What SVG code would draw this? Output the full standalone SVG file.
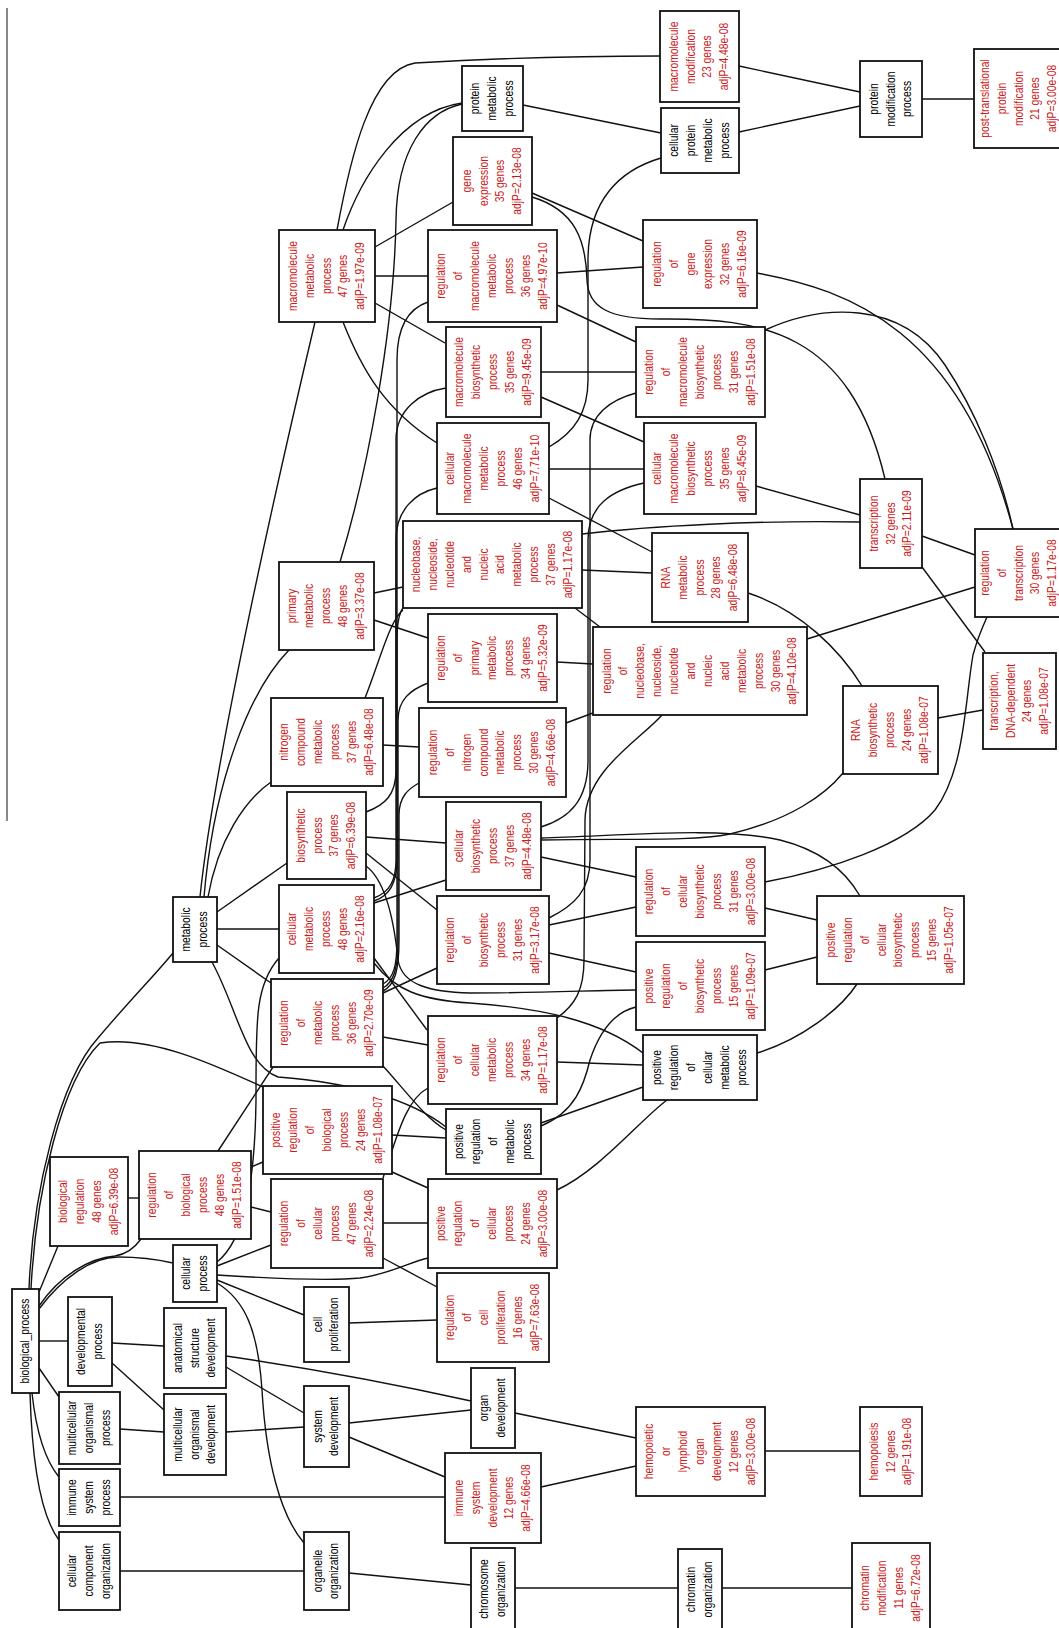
<svg xmlns="http://www.w3.org/2000/svg" width="1059" height="1628" viewBox="0 0 1059 1628">
<style>
.e path{fill:none;stroke:#111;stroke-width:1.4}
.n rect{fill:#fff;stroke:#111;stroke-width:1.8}
text{font-family:"Liberation Sans",Arial,sans-serif;font-size:12px;text-anchor:middle}
.r{fill:#cc1a1a}
.k{fill:#000}
</style>
<rect width="1059" height="1628" fill="#fff"/>
<path d="M7,8 L7,821" stroke="#888" stroke-width="2" fill="none"/>
<g class="e" id="edges">
<path d="M29,1289 C33,1190 60,1080 98,1038 C130,1000 155,975 173,953"/>
<path d="M31,1289 C36,1190 62,1080 100,1043 C150,1035 215,1065 263,1087"/>
<path d="M39,1292 L58,1246"/>
<path d="M39,1306 C60,1275 90,1258 115,1256 C128,1254 136,1246 141,1239"/>
<path d="M39,1309 C62,1278 92,1257 118,1257 C140,1257 160,1260 173,1263"/>
<path d="M39,1341 L68,1341"/>
<path d="M39,1368 L59,1397"/>
<path d="M32,1393 C36,1430 45,1460 59,1477"/>
<path d="M30,1393 C32,1460 40,1515 59,1540"/>
<path d="M128,1198 L139,1198"/>
<path d="M251,1167 L263,1162"/>
<path d="M251,1207 L271,1212"/>
<path d="M218,1151 L273,1067"/>
<path d="M217,1266 L271,1245"/>
<path d="M217,1275 C280,1279 330,1281 360,1278 C390,1274 410,1262 428,1258"/>
<path d="M217,1262 C245,1240 255,1180 256,1100 C256,1020 255,985 279,958"/>
<path d="M217,1280 L304,1315"/>
<path d="M217,1283 C245,1300 258,1330 262,1390 C266,1460 280,1515 304,1543"/>
<path d="M112,1343 L164,1346"/>
<path d="M112,1363 L164,1410"/>
<path d="M120,1429 L164,1432"/>
<path d="M226,1356 Q350,1374 471,1401"/>
<path d="M226,1367 L304,1413"/>
<path d="M226,1432 L304,1427"/>
<path d="M349,1423 L471,1410"/>
<path d="M349,1437 L445,1477"/>
<path d="M120,1497 L445,1497"/>
<path d="M515,1413 L636,1438"/>
<path d="M541,1487 L636,1466"/>
<path d="M765,1451 L860,1451"/>
<path d="M120,1571 L304,1571"/>
<path d="M349,1573 L471,1585"/>
<path d="M515,1588 L678,1588"/>
<path d="M722,1588 L852,1588"/>
<path d="M349,1323 L437,1320"/>
<path d="M383,1258 L437,1287"/>
<path d="M383,1223 L428,1223"/>
<path d="M392,1172 L428,1188"/>
<path d="M383,1178 C396,1140 405,1100 428,1088"/>
<path d="M392,1135 L446,1138"/>
<path d="M383,1066 C405,1090 425,1118 446,1130"/>
<path d="M212,962 C238,1010 245,1065 278,1077 C340,1082 405,1095 446,1127"/>
<path d="M217,929 L279,929"/>
<path d="M217,945 L271,983"/>
<path d="M217,912 L287,863"/>
<path d="M200,897 C214,760 280,470 315,322"/>
<path d="M204,897 C214,780 250,690 289,650"/>
<path d="M208,897 C218,840 245,800 271,782"/>
<path d="M383,993 L437,968"/>
<path d="M383,1037 L428,1045"/>
<path d="M383,984 C394,978 397,965 397,940 L397,360 C397,325 410,308 428,302"/>
<path d="M383,988 C394,982 398,968 398,940 L398,720 C398,700 410,690 428,683"/>
<path d="M383,991 C395,985 399,970 399,940 L399,815 C399,797 408,789 419,783"/>
<path d="M374,898 C390,892 396,880 396,860 L396,540 C396,510 415,493 437,488"/>
<path d="M374,901 C390,896 397,882 397,860 L397,640 C397,620 400,612 403,608"/>
<path d="M366,812 C385,805 396,795 396,770 L396,440 C396,410 420,392 446,388"/>
<path d="M340,562 C368,470 394,330 396,220 C397,150 425,112 462,104"/>
<path d="M374,903 L446,880"/>
<path d="M366,837 L446,843"/>
<path d="M366,853 L437,910"/>
<path d="M366,866 C385,880 394,920 398,960 C402,985 430,992 470,993 C540,993 600,990 636,990"/>
<path d="M374,958 L427,1030"/>
<path d="M374,963 C395,990 420,1000 470,1003 C540,1008 600,1020 643,1053"/>
<path d="M549,925 L636,907"/>
<path d="M549,953 L636,972"/>
<path d="M549,918 C575,905 590,890 590,860 L590,440 C590,415 610,400 636,393"/>
<path d="M541,857 L636,877"/>
<path d="M541,827 C570,818 588,800 588,760 L588,540 C588,505 612,490 644,483"/>
<path d="M541,838 C620,836 720,826 780,840 C820,850 845,870 860,896"/>
<path d="M541,840 C620,838 690,842 730,834 C790,820 825,795 843,773"/>
<path d="M557,1018 C575,1005 584,990 584,960 L585,820 C586,770 640,740 662,715"/>
<path d="M557,1062 L643,1065"/>
<path d="M541,1123 L643,1087"/>
<path d="M541,1126 C575,1112 584,1085 590,1060 C600,1030 615,1012 636,1007"/>
<path d="M557,1190 C600,1170 640,1120 667,1100"/>
<path d="M757,1053 C800,1040 840,1010 857,984"/>
<path d="M765,908 L817,920"/>
<path d="M765,970 L817,957"/>
<path d="M765,882 C830,870 905,845 935,810 C965,770 965,700 973,655 C977,640 982,628 987,617"/>
<path d="M807,639 L975,587"/>
<path d="M922,536 L975,555"/>
<path d="M922,567 L985,652"/>
<path d="M938,718 L983,710"/>
<path d="M748,593 C800,610 840,650 862,686"/>
<path d="M549,498 L652,552"/>
<path d="M582,570 L652,573"/>
<path d="M582,534 C650,526 760,520 860,522"/>
<path d="M756,486 L860,515"/>
<path d="M549,469 L644,469"/>
<path d="M541,397 L644,442"/>
<path d="M541,372 L636,372"/>
<path d="M557,305 L636,342"/>
<path d="M557,273 L643,267"/>
<path d="M532,193 L643,241"/>
<path d="M532,197 C575,210 586,240 587,280 C588,308 610,319 660,319 C760,318 850,330 885,479"/>
<path d="M757,273 C850,290 960,330 1013,529"/>
<path d="M765,330 C820,305 900,298 945,365 C975,410 1000,470 1013,529"/>
<path d="M549,447 C575,432 588,412 588,380 L588,260 C588,200 620,170 661,158"/>
<path d="M523,105 L661,133"/>
<path d="M739,66 L860,92"/>
<path d="M739,132 L860,106"/>
<path d="M922,99 L974,99"/>
<path d="M337,230 C350,160 370,70 415,63 C500,58 600,56 660,56"/>
<path d="M343,230 C360,180 400,112 462,103"/>
<path d="M375,247 L453,202"/>
<path d="M375,276 L428,276"/>
<path d="M375,303 L445,343"/>
<path d="M343,322 C362,370 385,410 437,443"/>
<path d="M374,593 L403,587"/>
<path d="M374,620 L428,638"/>
<path d="M365,698 C380,660 390,620 403,610"/>
<path d="M383,745 L419,747"/>
<path d="M575,608 L600,627"/>
<path d="M557,662 L593,664"/>
<path d="M566,723 L593,713"/>
</g>
<g class="n">
<g id="biological_process"><rect x="12" y="1289" width="27" height="104"/><text class="k" transform="translate(25.5 1341) rotate(-90) scale(.86 1)"><tspan x="0" y="3.5">biological_process</tspan></text></g>
<g id="biological_regulation"><rect x="50" y="1157" width="78" height="89"/><text class="r" transform="translate(89 1201.5) rotate(-90) scale(.86 1)"><tspan x="0" y="-21.85">biological</tspan><tspan x="0" y="-4.95">regulation</tspan><tspan x="0" y="11.95">48 genes</tspan><tspan x="0" y="28.85">adjP=6.39e-08</tspan></text></g>
<g id="regulation_of_biological_process"><rect x="139" y="1151" width="112" height="88"/><text class="r" transform="translate(195 1195) rotate(-90) scale(.86 1)"><tspan x="0" y="-38.75">regulation</tspan><tspan x="0" y="-21.85">of</tspan><tspan x="0" y="-4.95">biological</tspan><tspan x="0" y="11.95">process</tspan><tspan x="0" y="28.85">48 genes</tspan><tspan x="0" y="45.75">adjP=1.51e-08</tspan></text></g>
<g id="cellular_process"><rect x="173" y="1245" width="44" height="57"/><text class="k" transform="translate(195 1273.5) rotate(-90) scale(.86 1)"><tspan x="0" y="-4.95">cellular</tspan><tspan x="0" y="11.95">process</tspan></text></g>
<g id="developmental_process"><rect x="68" y="1297" width="44" height="89"/><text class="k" transform="translate(90 1341.5) rotate(-90) scale(.86 1)"><tspan x="0" y="-4.95">developmental</tspan><tspan x="0" y="11.95">process</tspan></text></g>
<g id="anatomical_structure_development"><rect x="164" y="1308" width="62" height="80"/><text class="k" transform="translate(195 1348) rotate(-90) scale(.86 1)"><tspan x="0" y="-13.4">anatomical</tspan><tspan x="0" y="3.5">structure</tspan><tspan x="0" y="20.4">development</tspan></text></g>
<g id="multicellular_organismal_process"><rect x="59" y="1392" width="61" height="72"/><text class="k" transform="translate(89.5 1428) rotate(-90) scale(.86 1)"><tspan x="0" y="-13.4">multicellular</tspan><tspan x="0" y="3.5">organismal</tspan><tspan x="0" y="20.4">process</tspan></text></g>
<g id="multicellular_organismal_development"><rect x="164" y="1394" width="62" height="81"/><text class="k" transform="translate(195 1434.5) rotate(-90) scale(.86 1)"><tspan x="0" y="-13.4">multicellular</tspan><tspan x="0" y="3.5">organismal</tspan><tspan x="0" y="20.4">development</tspan></text></g>
<g id="immune_system_process"><rect x="59" y="1469" width="61" height="57"/><text class="k" transform="translate(89.5 1497.5) rotate(-90) scale(.86 1)"><tspan x="0" y="-13.4">immune</tspan><tspan x="0" y="3.5">system</tspan><tspan x="0" y="20.4">process</tspan></text></g>
<g id="cellular_component_organization"><rect x="59" y="1532" width="61" height="78"/><text class="k" transform="translate(89.5 1571) rotate(-90) scale(.86 1)"><tspan x="0" y="-13.4">cellular</tspan><tspan x="0" y="3.5">component</tspan><tspan x="0" y="20.4">organization</tspan></text></g>
<g id="metabolic_process"><rect x="173" y="897" width="44" height="65"/><text class="k" transform="translate(195 929.5) rotate(-90) scale(.86 1)"><tspan x="0" y="-4.95">metabolic</tspan><tspan x="0" y="11.95">process</tspan></text></g>
<g id="macromolecule_metabolic_process"><rect x="279" y="230" width="96" height="92"/><text class="r" transform="translate(327 276) rotate(-90) scale(.86 1)"><tspan x="0" y="-30.3">macromolecule</tspan><tspan x="0" y="-13.4">metabolic</tspan><tspan x="0" y="3.5">process</tspan><tspan x="0" y="20.4">47 genes</tspan><tspan x="0" y="37.3">adjP=1.97e-09</tspan></text></g>
<g id="primary_metabolic_process"><rect x="279" y="562" width="95" height="88"/><text class="r" transform="translate(326.5 606) rotate(-90) scale(.86 1)"><tspan x="0" y="-30.3">primary</tspan><tspan x="0" y="-13.4">metabolic</tspan><tspan x="0" y="3.5">process</tspan><tspan x="0" y="20.4">48 genes</tspan><tspan x="0" y="37.3">adjP=3.37e-08</tspan></text></g>
<g id="nitrogen_compound_metabolic_process"><rect x="271" y="698" width="112" height="88"/><text class="r" transform="translate(327 742) rotate(-90) scale(.86 1)"><tspan x="0" y="-38.75">nitrogen</tspan><tspan x="0" y="-21.85">compound</tspan><tspan x="0" y="-4.95">metabolic</tspan><tspan x="0" y="11.95">process</tspan><tspan x="0" y="28.85">37 genes</tspan><tspan x="0" y="45.75">adjP=6.48e-08</tspan></text></g>
<g id="biosynthetic_process"><rect x="287" y="792" width="79" height="87"/><text class="r" transform="translate(326.5 835.5) rotate(-90) scale(.86 1)"><tspan x="0" y="-21.85">biosynthetic</tspan><tspan x="0" y="-4.95">process</tspan><tspan x="0" y="11.95">37 genes</tspan><tspan x="0" y="28.85">adjP=6.39e-08</tspan></text></g>
<g id="cellular_metabolic_process"><rect x="279" y="885" width="95" height="88"/><text class="r" transform="translate(326.5 929) rotate(-90) scale(.86 1)"><tspan x="0" y="-30.3">cellular</tspan><tspan x="0" y="-13.4">metabolic</tspan><tspan x="0" y="3.5">process</tspan><tspan x="0" y="20.4">48 genes</tspan><tspan x="0" y="37.3">adjP=2.16e-08</tspan></text></g>
<g id="regulation_of_metabolic_process"><rect x="271" y="979" width="112" height="88"/><text class="r" transform="translate(327 1023) rotate(-90) scale(.86 1)"><tspan x="0" y="-38.75">regulation</tspan><tspan x="0" y="-21.85">of</tspan><tspan x="0" y="-4.95">metabolic</tspan><tspan x="0" y="11.95">process</tspan><tspan x="0" y="28.85">36 genes</tspan><tspan x="0" y="45.75">adjP=2.70e-09</tspan></text></g>
<g id="positive_regulation_of_biological_process"><rect x="263" y="1086" width="129" height="88"/><text class="r" transform="translate(327.5 1130) rotate(-90) scale(.86 1)"><tspan x="0" y="-47.2">positive</tspan><tspan x="0" y="-30.3">regulation</tspan><tspan x="0" y="-13.4">of</tspan><tspan x="0" y="3.5">biological</tspan><tspan x="0" y="20.4">process</tspan><tspan x="0" y="37.3">24 genes</tspan><tspan x="0" y="54.2">adjP=1.08e-07</tspan></text></g>
<g id="regulation_of_cellular_process"><rect x="271" y="1179" width="112" height="89"/><text class="r" transform="translate(327 1223.5) rotate(-90) scale(.86 1)"><tspan x="0" y="-38.75">regulation</tspan><tspan x="0" y="-21.85">of</tspan><tspan x="0" y="-4.95">cellular</tspan><tspan x="0" y="11.95">process</tspan><tspan x="0" y="28.85">47 genes</tspan><tspan x="0" y="45.75">adjP=2.24e-08</tspan></text></g>
<g id="cell_proliferation"><rect x="304" y="1287" width="45" height="75"/><text class="k" transform="translate(326.5 1324.5) rotate(-90) scale(.86 1)"><tspan x="0" y="-4.95">cell</tspan><tspan x="0" y="11.95">proliferation</tspan></text></g>
<g id="system_development"><rect x="304" y="1386" width="45" height="81"/><text class="k" transform="translate(326.5 1426.5) rotate(-90) scale(.86 1)"><tspan x="0" y="-4.95">system</tspan><tspan x="0" y="11.95">development</tspan></text></g>
<g id="organelle_organization"><rect x="304" y="1532" width="45" height="78"/><text class="k" transform="translate(326.5 1571) rotate(-90) scale(.86 1)"><tspan x="0" y="-4.95">organelle</tspan><tspan x="0" y="11.95">organization</tspan></text></g>
<g id="protein_metabolic_process"><rect x="462" y="66" width="61" height="65"/><text class="k" transform="translate(492.5 98.5) rotate(-90) scale(.86 1)"><tspan x="0" y="-13.4">protein</tspan><tspan x="0" y="3.5">metabolic</tspan><tspan x="0" y="20.4">process</tspan></text></g>
<g id="gene_expression"><rect x="453" y="137" width="79" height="88"/><text class="r" transform="translate(492.5 181) rotate(-90) scale(.86 1)"><tspan x="0" y="-21.85">gene</tspan><tspan x="0" y="-4.95">expression</tspan><tspan x="0" y="11.95">35 genes</tspan><tspan x="0" y="28.85">adjP=2.13e-08</tspan></text></g>
<g id="regulation_of_macromolecule_metabolic_process"><rect x="428" y="230" width="129" height="92"/><text class="r" transform="translate(492.5 276) rotate(-90) scale(.86 1)"><tspan x="0" y="-47.2">regulation</tspan><tspan x="0" y="-30.3">of</tspan><tspan x="0" y="-13.4">macromolecule</tspan><tspan x="0" y="3.5">metabolic</tspan><tspan x="0" y="20.4">process</tspan><tspan x="0" y="37.3">36 genes</tspan><tspan x="0" y="54.2">adjP=4.97e-10</tspan></text></g>
<g id="macromolecule_biosynthetic_process"><rect x="446" y="327" width="95" height="90"/><text class="r" transform="translate(493.5 372) rotate(-90) scale(.86 1)"><tspan x="0" y="-30.3">macromolecule</tspan><tspan x="0" y="-13.4">biosynthetic</tspan><tspan x="0" y="3.5">process</tspan><tspan x="0" y="20.4">35 genes</tspan><tspan x="0" y="37.3">adjP=9.45e-09</tspan></text></g>
<g id="cellular_macromolecule_metabolic_process"><rect x="437" y="423" width="112" height="91"/><text class="r" transform="translate(493 468.5) rotate(-90) scale(.86 1)"><tspan x="0" y="-38.75">cellular</tspan><tspan x="0" y="-21.85">macromolecule</tspan><tspan x="0" y="-4.95">metabolic</tspan><tspan x="0" y="11.95">process</tspan><tspan x="0" y="28.85">46 genes</tspan><tspan x="0" y="45.75">adjP=7.71e-10</tspan></text></g>
<g id="nucleobase_metabolic_process"><rect x="403" y="521" width="179" height="87"/><text class="r" transform="translate(492.5 564.5) rotate(-90) scale(.86 1)"><tspan x="0" y="-72.55">nucleobase,</tspan><tspan x="0" y="-55.65">nucleoside,</tspan><tspan x="0" y="-38.75">nucleotide</tspan><tspan x="0" y="-21.85">and</tspan><tspan x="0" y="-4.95">nucleic</tspan><tspan x="0" y="11.95">acid</tspan><tspan x="0" y="28.85">metabolic</tspan><tspan x="0" y="45.75">process</tspan><tspan x="0" y="62.65">37 genes</tspan><tspan x="0" y="79.55">adjP=1.17e-08</tspan></text></g>
<g id="regulation_of_primary_metabolic_process"><rect x="428" y="614" width="129" height="88"/><text class="r" transform="translate(492.5 658) rotate(-90) scale(.86 1)"><tspan x="0" y="-47.2">regulation</tspan><tspan x="0" y="-30.3">of</tspan><tspan x="0" y="-13.4">primary</tspan><tspan x="0" y="3.5">metabolic</tspan><tspan x="0" y="20.4">process</tspan><tspan x="0" y="37.3">34 genes</tspan><tspan x="0" y="54.2">adjP=5.32e-09</tspan></text></g>
<g id="regulation_of_nitrogen_compound_metabolic_process"><rect x="419" y="708" width="147" height="89"/><text class="r" transform="translate(492.5 752.5) rotate(-90) scale(.86 1)"><tspan x="0" y="-55.65">regulation</tspan><tspan x="0" y="-38.75">of</tspan><tspan x="0" y="-21.85">nitrogen</tspan><tspan x="0" y="-4.95">compound</tspan><tspan x="0" y="11.95">metabolic</tspan><tspan x="0" y="28.85">process</tspan><tspan x="0" y="45.75">30 genes</tspan><tspan x="0" y="62.65">adjP=4.66e-08</tspan></text></g>
<g id="cellular_biosynthetic_process"><rect x="446" y="802" width="95" height="88"/><text class="r" transform="translate(493.5 846) rotate(-90) scale(.86 1)"><tspan x="0" y="-30.3">cellular</tspan><tspan x="0" y="-13.4">biosynthetic</tspan><tspan x="0" y="3.5">process</tspan><tspan x="0" y="20.4">37 genes</tspan><tspan x="0" y="37.3">adjP=4.48e-08</tspan></text></g>
<g id="regulation_of_biosynthetic_process"><rect x="437" y="896" width="112" height="88"/><text class="r" transform="translate(493 940) rotate(-90) scale(.86 1)"><tspan x="0" y="-38.75">regulation</tspan><tspan x="0" y="-21.85">of</tspan><tspan x="0" y="-4.95">biosynthetic</tspan><tspan x="0" y="11.95">process</tspan><tspan x="0" y="28.85">31 genes</tspan><tspan x="0" y="45.75">adjP=3.17e-08</tspan></text></g>
<g id="regulation_of_cellular_metabolic_process"><rect x="428" y="1016" width="129" height="88"/><text class="r" transform="translate(492.5 1060) rotate(-90) scale(.86 1)"><tspan x="0" y="-47.2">regulation</tspan><tspan x="0" y="-30.3">of</tspan><tspan x="0" y="-13.4">cellular</tspan><tspan x="0" y="3.5">metabolic</tspan><tspan x="0" y="20.4">process</tspan><tspan x="0" y="37.3">34 genes</tspan><tspan x="0" y="54.2">adjP=1.17e-08</tspan></text></g>
<g id="positive_regulation_of_metabolic_process"><rect x="446" y="1109" width="95" height="65"/><text class="k" transform="translate(493.5 1141.5) rotate(-90) scale(.86 1)"><tspan x="0" y="-30.3">positive</tspan><tspan x="0" y="-13.4">regulation</tspan><tspan x="0" y="3.5">of</tspan><tspan x="0" y="20.4">metabolic</tspan><tspan x="0" y="37.3">process</tspan></text></g>
<g id="positive_regulation_of_cellular_process"><rect x="428" y="1179" width="129" height="89"/><text class="r" transform="translate(492.5 1223.5) rotate(-90) scale(.86 1)"><tspan x="0" y="-47.2">positive</tspan><tspan x="0" y="-30.3">regulation</tspan><tspan x="0" y="-13.4">of</tspan><tspan x="0" y="3.5">cellular</tspan><tspan x="0" y="20.4">process</tspan><tspan x="0" y="37.3">24 genes</tspan><tspan x="0" y="54.2">adjP=3.00e-08</tspan></text></g>
<g id="regulation_of_cell_proliferation"><rect x="437" y="1273" width="112" height="89"/><text class="r" transform="translate(493 1317.5) rotate(-90) scale(.86 1)"><tspan x="0" y="-38.75">regulation</tspan><tspan x="0" y="-21.85">of</tspan><tspan x="0" y="-4.95">cell</tspan><tspan x="0" y="11.95">proliferation</tspan><tspan x="0" y="28.85">16 genes</tspan><tspan x="0" y="45.75">adjP=7.63e-08</tspan></text></g>
<g id="organ_development"><rect x="471" y="1368" width="44" height="80"/><text class="k" transform="translate(493 1408) rotate(-90) scale(.86 1)"><tspan x="0" y="-4.95">organ</tspan><tspan x="0" y="11.95">development</tspan></text></g>
<g id="immune_system_development"><rect x="445" y="1453" width="96" height="90"/><text class="r" transform="translate(493 1498) rotate(-90) scale(.86 1)"><tspan x="0" y="-30.3">immune</tspan><tspan x="0" y="-13.4">system</tspan><tspan x="0" y="3.5">development</tspan><tspan x="0" y="20.4">12 genes</tspan><tspan x="0" y="37.3">adjP=4.66e-08</tspan></text></g>
<g id="chromosome_organization"><rect x="471" y="1548" width="44" height="82"/><text class="k" transform="translate(493 1589) rotate(-90) scale(.86 1)"><tspan x="0" y="-4.95">chromosome</tspan><tspan x="0" y="11.95">organization</tspan></text></g>
<g id="macromolecule_modification"><rect x="660" y="11" width="79" height="91"/><text class="r" transform="translate(699.5 56.5) rotate(-90) scale(.86 1)"><tspan x="0" y="-21.85">macromolecule</tspan><tspan x="0" y="-4.95">modification</tspan><tspan x="0" y="11.95">23 genes</tspan><tspan x="0" y="28.85">adjP=4.48e-08</tspan></text></g>
<g id="cellular_protein_metabolic_process"><rect x="661" y="108" width="78" height="65"/><text class="k" transform="translate(700 140.5) rotate(-90) scale(.86 1)"><tspan x="0" y="-21.85">cellular</tspan><tspan x="0" y="-4.95">protein</tspan><tspan x="0" y="11.95">metabolic</tspan><tspan x="0" y="28.85">process</tspan></text></g>
<g id="regulation_of_gene_expression"><rect x="643" y="220" width="114" height="88"/><text class="r" transform="translate(700 264) rotate(-90) scale(.86 1)"><tspan x="0" y="-38.75">regulation</tspan><tspan x="0" y="-21.85">of</tspan><tspan x="0" y="-4.95">gene</tspan><tspan x="0" y="11.95">expression</tspan><tspan x="0" y="28.85">32 genes</tspan><tspan x="0" y="45.75">adjP=6.16e-09</tspan></text></g>
<g id="regulation_of_macromolecule_biosynthetic_process"><rect x="636" y="327" width="129" height="90"/><text class="r" transform="translate(700.5 372) rotate(-90) scale(.86 1)"><tspan x="0" y="-47.2">regulation</tspan><tspan x="0" y="-30.3">of</tspan><tspan x="0" y="-13.4">macromolecule</tspan><tspan x="0" y="3.5">biosynthetic</tspan><tspan x="0" y="20.4">process</tspan><tspan x="0" y="37.3">31 genes</tspan><tspan x="0" y="54.2">adjP=1.51e-08</tspan></text></g>
<g id="cellular_macromolecule_biosynthetic_process"><rect x="644" y="423" width="112" height="91"/><text class="r" transform="translate(700 468.5) rotate(-90) scale(.86 1)"><tspan x="0" y="-38.75">cellular</tspan><tspan x="0" y="-21.85">macromolecule</tspan><tspan x="0" y="-4.95">biosynthetic</tspan><tspan x="0" y="11.95">process</tspan><tspan x="0" y="28.85">35 genes</tspan><tspan x="0" y="45.75">adjP=8.45e-09</tspan></text></g>
<g id="RNA_metabolic_process"><rect x="652" y="533" width="96" height="89"/><text class="r" transform="translate(700 577.5) rotate(-90) scale(.86 1)"><tspan x="0" y="-30.3">RNA</tspan><tspan x="0" y="-13.4">metabolic</tspan><tspan x="0" y="3.5">process</tspan><tspan x="0" y="20.4">28 genes</tspan><tspan x="0" y="37.3">adjP=6.48e-08</tspan></text></g>
<g id="regulation_of_nucleobase_metabolic_process"><rect x="593" y="627" width="214" height="88"/><text class="r" transform="translate(700 671) rotate(-90) scale(.86 1)"><tspan x="0" y="-89.45">regulation</tspan><tspan x="0" y="-72.55">of</tspan><tspan x="0" y="-55.65">nucleobase,</tspan><tspan x="0" y="-38.75">nucleoside,</tspan><tspan x="0" y="-21.85">nucleotide</tspan><tspan x="0" y="-4.95">and</tspan><tspan x="0" y="11.95">nucleic</tspan><tspan x="0" y="28.85">acid</tspan><tspan x="0" y="45.75">metabolic</tspan><tspan x="0" y="62.65">process</tspan><tspan x="0" y="79.55">30 genes</tspan><tspan x="0" y="96.45">adjP=4.10e-08</tspan></text></g>
<g id="regulation_of_cellular_biosynthetic_process"><rect x="636" y="847" width="129" height="89"/><text class="r" transform="translate(700.5 891.5) rotate(-90) scale(.86 1)"><tspan x="0" y="-47.2">regulation</tspan><tspan x="0" y="-30.3">of</tspan><tspan x="0" y="-13.4">cellular</tspan><tspan x="0" y="3.5">biosynthetic</tspan><tspan x="0" y="20.4">process</tspan><tspan x="0" y="37.3">31 genes</tspan><tspan x="0" y="54.2">adjP=3.00e-08</tspan></text></g>
<g id="positive_regulation_of_biosynthetic_process"><rect x="636" y="942" width="129" height="88"/><text class="r" transform="translate(700.5 986) rotate(-90) scale(.86 1)"><tspan x="0" y="-47.2">positive</tspan><tspan x="0" y="-30.3">regulation</tspan><tspan x="0" y="-13.4">of</tspan><tspan x="0" y="3.5">biosynthetic</tspan><tspan x="0" y="20.4">process</tspan><tspan x="0" y="37.3">15 genes</tspan><tspan x="0" y="54.2">adjP=1.09e-07</tspan></text></g>
<g id="positive_regulation_of_cellular_metabolic_process"><rect x="643" y="1035" width="114" height="65"/><text class="k" transform="translate(700 1067.5) rotate(-90) scale(.86 1)"><tspan x="0" y="-38.75">positive</tspan><tspan x="0" y="-21.85">regulation</tspan><tspan x="0" y="-4.95">of</tspan><tspan x="0" y="11.95">cellular</tspan><tspan x="0" y="28.85">metabolic</tspan><tspan x="0" y="45.75">process</tspan></text></g>
<g id="hemopoietic_or_lymphoid_organ_development"><rect x="636" y="1407" width="129" height="89"/><text class="r" transform="translate(700.5 1451.5) rotate(-90) scale(.86 1)"><tspan x="0" y="-47.2">hemopoietic</tspan><tspan x="0" y="-30.3">or</tspan><tspan x="0" y="-13.4">lymphoid</tspan><tspan x="0" y="3.5">organ</tspan><tspan x="0" y="20.4">development</tspan><tspan x="0" y="37.3">12 genes</tspan><tspan x="0" y="54.2">adjP=3.00e-08</tspan></text></g>
<g id="chromatin_organization"><rect x="678" y="1549" width="44" height="81"/><text class="k" transform="translate(700 1589.5) rotate(-90) scale(.86 1)"><tspan x="0" y="-4.95">chromatin</tspan><tspan x="0" y="11.95">organization</tspan></text></g>
<g id="protein_modification_process"><rect x="860" y="61" width="62" height="76"/><text class="k" transform="translate(891 99) rotate(-90) scale(.86 1)"><tspan x="0" y="-13.4">protein</tspan><tspan x="0" y="3.5">modification</tspan><tspan x="0" y="20.4">process</tspan></text></g>
<g id="transcription"><rect x="860" y="479" width="62" height="89"/><text class="r" transform="translate(891 523.5) rotate(-90) scale(.86 1)"><tspan x="0" y="-13.4">transcription</tspan><tspan x="0" y="3.5">32 genes</tspan><tspan x="0" y="20.4">adjP=2.11e-09</tspan></text></g>
<g id="RNA_biosynthetic_process"><rect x="843" y="686" width="95" height="88"/><text class="r" transform="translate(890.5 730) rotate(-90) scale(.86 1)"><tspan x="0" y="-30.3">RNA</tspan><tspan x="0" y="-13.4">biosynthetic</tspan><tspan x="0" y="3.5">process</tspan><tspan x="0" y="20.4">24 genes</tspan><tspan x="0" y="37.3">adjP=1.08e-07</tspan></text></g>
<g id="positive_regulation_of_cellular_biosynthetic_process"><rect x="817" y="896" width="147" height="88"/><text class="r" transform="translate(890.5 940) rotate(-90) scale(.86 1)"><tspan x="0" y="-55.65">positive</tspan><tspan x="0" y="-38.75">regulation</tspan><tspan x="0" y="-21.85">of</tspan><tspan x="0" y="-4.95">cellular</tspan><tspan x="0" y="11.95">biosynthetic</tspan><tspan x="0" y="28.85">process</tspan><tspan x="0" y="45.75">15 genes</tspan><tspan x="0" y="62.65">adjP=1.05e-07</tspan></text></g>
<g id="hemopoiesis"><rect x="860" y="1407" width="62" height="89"/><text class="r" transform="translate(891 1451.5) rotate(-90) scale(.86 1)"><tspan x="0" y="-13.4">hemopoiesis</tspan><tspan x="0" y="3.5">12 genes</tspan><tspan x="0" y="20.4">adjP=1.91e-08</tspan></text></g>
<g id="post_translational_protein_modification"><rect x="974" y="49" width="90" height="99"/><text class="r" transform="translate(1019 98.5) rotate(-90) scale(.86 1)"><tspan x="0" y="-30.3">post-translational</tspan><tspan x="0" y="-13.4">protein</tspan><tspan x="0" y="3.5">modification</tspan><tspan x="0" y="20.4">21 genes</tspan><tspan x="0" y="37.3">adjP=3.00e-08</tspan></text></g>
<g id="regulation_of_transcription"><rect x="975" y="529" width="88" height="88"/><text class="r" transform="translate(1019 573) rotate(-90) scale(.86 1)"><tspan x="0" y="-30.3">regulation</tspan><tspan x="0" y="-13.4">of</tspan><tspan x="0" y="3.5">transcription</tspan><tspan x="0" y="20.4">30 genes</tspan><tspan x="0" y="37.3">adjP=1.17e-08</tspan></text></g>
<g id="transcription_DNA_dependent"><rect x="983" y="653" width="73" height="96"/><text class="r" transform="translate(1019.5 701) rotate(-90) scale(.86 1)"><tspan x="0" y="-21.85">transcription,</tspan><tspan x="0" y="-4.95">DNA-dependent</tspan><tspan x="0" y="11.95">24 genes</tspan><tspan x="0" y="28.85">adjP=1.08e-07</tspan></text></g>
<g id="chromatin_modification"><rect x="852" y="1543" width="78" height="90"/><text class="r" transform="translate(891 1588) rotate(-90) scale(.86 1)"><tspan x="0" y="-21.85">chromatin</tspan><tspan x="0" y="-4.95">modification</tspan><tspan x="0" y="11.95">11 genes</tspan><tspan x="0" y="28.85">adjP=6.72e-08</tspan></text></g>
</g>
</svg>
